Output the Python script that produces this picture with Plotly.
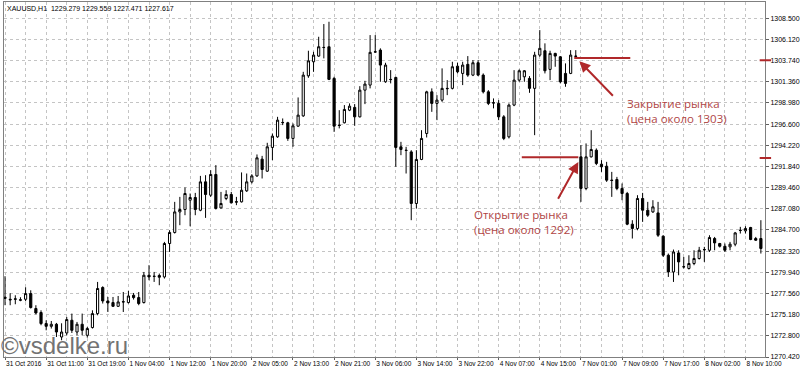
import plotly.graph_objects as go

# ---------------- data ----------------
opens = [
    1277.14, 1276.91, 1276.91, 1276.80, 1276.91, 1277.55, 1275.87, 1275.42, 1274.18, 1273.87,
    1274.10, 1272.67, 1273.12, 1274.55, 1273.23, 1274.10, 1272.86, 1273.73, 1275.30, 1278.23,
    1276.72, 1276.54, 1276.12, 1276.61, 1276.54, 1277.36, 1277.10, 1276.54, 1279.61, 1279.50,
    1279.58, 1279.42, 1283.18, 1284.42, 1286.73, 1287.00, 1288.05, 1288.35, 1286.92, 1290.11,
    1288.61, 1290.94, 1287.18, 1288.24, 1288.69, 1287.88, 1287.86, 1289.10, 1290.11, 1290.78,
    1292.66, 1291.31, 1293.98, 1295.17, 1296.79, 1296.75, 1294.99, 1296.37, 1297.53, 1302.03,
    1303.61, 1304.25, 1305.23, 1305.30, 1301.74, 1296.49, 1296.75, 1298.17, 1298.48, 1297.42,
    1300.42, 1300.99, 1304.70, 1304.92, 1301.36, 1301.63, 1301.85, 1294.05, 1293.67, 1293.48,
    1287.68, 1292.63, 1295.55, 1300.23, 1298.93, 1299.30, 1300.62, 1300.62, 1303.12, 1302.30,
    1303.32, 1302.11, 1303.50, 1302.11, 1300.23, 1299.00, 1298.93, 1297.42, 1295.17, 1298.74,
    1301.55, 1301.92, 1301.74, 1300.62, 1304.36, 1304.85, 1302.75, 1304.55, 1304.17, 1302.30,
    1302.30, 1304.25, 1292.92, 1289.37, 1292.92, 1293.67, 1292.10, 1291.87, 1290.30, 1290.38,
    1289.37, 1288.80, 1285.35, 1284.87, 1288.24, 1286.92, 1286.73, 1286.62, 1284.00, 1281.86,
    1279.98, 1282.12, 1280.55, 1280.37, 1280.93, 1281.49, 1282.50, 1282.42, 1283.74, 1283.18,
    1282.87, 1282.80, 1283.10, 1284.67, 1284.60, 1284.98, 1283.74, 1283.74]

highs = [
    1279.50, 1277.59, 1277.36, 1277.14, 1278.26, 1277.92, 1276.24, 1275.67, 1274.55, 1274.47,
    1274.25, 1274.21, 1274.92, 1275.30, 1274.36, 1275.30, 1273.80, 1275.67, 1278.86, 1278.37,
    1277.17, 1277.17, 1277.28, 1277.73, 1277.85, 1277.62, 1277.73, 1279.98, 1280.74, 1279.98,
    1279.80, 1283.36, 1284.67, 1287.86, 1288.42, 1289.48, 1288.80, 1288.87, 1290.78, 1290.86,
    1291.42, 1291.99, 1288.98, 1289.17, 1288.98, 1288.42, 1291.17, 1291.05, 1290.97, 1293.19,
    1293.03, 1294.50, 1295.55, 1297.42, 1297.24, 1296.86, 1296.68, 1299.60, 1302.48, 1304.85,
    1304.73, 1306.42, 1307.85, 1308.11, 1301.92, 1298.17, 1298.74, 1298.93, 1298.85, 1300.87,
    1301.47, 1306.61, 1306.61, 1305.12, 1303.50, 1302.67, 1301.92, 1294.61, 1294.05, 1293.67,
    1293.67, 1295.92, 1300.35, 1300.62, 1299.86, 1302.87, 1301.55, 1303.61, 1303.50, 1303.61,
    1304.25, 1303.80, 1303.80, 1302.30, 1300.42, 1299.49, 1299.30, 1297.61, 1298.93, 1302.67,
    1302.75, 1302.67, 1302.00, 1304.73, 1307.17, 1305.68, 1304.85, 1304.62, 1304.25, 1303.43,
    1304.92, 1304.92, 1294.24, 1294.43, 1295.92, 1293.87, 1292.55, 1292.36, 1291.23, 1290.67,
    1289.93, 1288.98, 1285.80, 1288.61, 1288.87, 1287.86, 1288.05, 1287.86, 1284.11, 1282.05,
    1282.50, 1282.42, 1281.67, 1281.86, 1282.42, 1282.80, 1282.80, 1284.11, 1283.92, 1283.25,
    1283.18, 1283.36, 1284.48, 1285.05, 1285.12, 1285.05, 1283.92, 1285.80]

lows = [
    1276.24, 1276.24, 1276.35, 1276.69, 1276.69, 1275.87, 1275.22, 1273.99, 1273.42, 1273.62,
    1272.67, 1272.30, 1272.86, 1273.12, 1272.86, 1272.86, 1272.60, 1273.62, 1275.11, 1276.43,
    1275.48, 1276.05, 1276.05, 1275.48, 1276.43, 1276.88, 1276.24, 1276.43, 1279.05, 1278.86,
    1278.49, 1279.24, 1282.23, 1284.30, 1285.24, 1286.36, 1285.12, 1286.36, 1286.81, 1286.06,
    1288.42, 1287.00, 1287.12, 1288.05, 1287.68, 1287.49, 1287.79, 1288.98, 1289.93, 1290.67,
    1290.49, 1291.23, 1292.55, 1295.06, 1296.49, 1294.72, 1294.05, 1296.30, 1297.42, 1301.81,
    1302.48, 1304.17, 1303.99, 1301.55, 1295.73, 1296.12, 1296.68, 1298.06, 1296.41, 1297.35,
    1298.85, 1300.62, 1304.64, 1301.36, 1301.25, 1301.18, 1291.80, 1293.11, 1291.05, 1285.80,
    1287.12, 1292.55, 1295.10, 1297.98, 1297.05, 1299.11, 1299.86, 1300.50, 1302.30, 1300.99,
    1301.92, 1302.00, 1302.00, 1300.05, 1298.74, 1298.37, 1297.05, 1294.80, 1294.99, 1298.62,
    1301.36, 1301.36, 1300.12, 1295.36, 1304.17, 1302.30, 1301.55, 1303.05, 1301.18, 1300.80,
    1302.22, 1304.10, 1287.86, 1289.17, 1292.85, 1291.99, 1291.23, 1290.11, 1288.42, 1289.17,
    1288.05, 1285.24, 1283.74, 1284.67, 1285.61, 1286.17, 1286.62, 1283.92, 1281.67, 1279.42,
    1278.86, 1279.61, 1280.37, 1280.25, 1280.74, 1281.38, 1281.11, 1282.23, 1282.42, 1282.73,
    1282.23, 1282.42, 1282.87, 1284.30, 1284.30, 1283.55, 1283.47, 1282.05]

closes = [
    1277.02, 1276.85, 1276.95, 1276.85, 1277.55, 1275.98, 1275.37, 1274.18, 1273.87, 1274.10,
    1273.23, 1273.23, 1274.63, 1273.42, 1274.10, 1273.42, 1273.62, 1275.30, 1278.12, 1276.72,
    1276.50, 1276.12, 1276.61, 1276.63, 1277.28, 1277.10, 1276.43, 1279.61, 1279.42, 1279.48,
    1279.39, 1283.18, 1284.42, 1286.73, 1287.00, 1288.80, 1288.35, 1287.00, 1290.11, 1288.69,
    1290.94, 1287.12, 1287.68, 1288.69, 1287.75, 1287.84, 1289.17, 1290.11, 1290.78, 1292.81,
    1291.50, 1294.05, 1295.25, 1297.05, 1296.77, 1294.99, 1296.41, 1297.61, 1302.11, 1303.72,
    1304.36, 1305.30, 1305.21, 1301.63, 1296.37, 1296.45, 1298.25, 1298.62, 1297.42, 1300.42,
    1301.10, 1304.67, 1304.73, 1303.24, 1303.24, 1301.61, 1293.98, 1293.75, 1293.64, 1287.68,
    1292.63, 1294.99, 1300.23, 1298.93, 1299.30, 1300.62, 1300.59, 1303.05, 1302.48, 1303.24,
    1302.11, 1303.50, 1302.11, 1300.23, 1298.93, 1298.98, 1297.42, 1294.99, 1298.74, 1301.55,
    1302.60, 1302.60, 1300.62, 1304.36, 1305.12, 1302.60, 1304.55, 1304.25, 1301.36, 1301.18,
    1304.36, 1304.22, 1289.37, 1292.92, 1293.75, 1292.18, 1291.80, 1290.30, 1290.27, 1289.37,
    1288.80, 1285.35, 1284.87, 1288.24, 1286.92, 1286.36, 1287.30, 1284.11, 1281.86, 1279.98,
    1282.23, 1281.11, 1280.57, 1280.93, 1281.49, 1282.42, 1282.48, 1283.85, 1283.25, 1282.87,
    1282.42, 1283.10, 1284.37, 1284.65, 1284.87, 1283.63, 1283.55, 1282.62]

tick_labels = ["31 Oct 2016", "31 Oct 11:00", "31 Oct 19:00", "1 Nov 04:00", "1 Nov 12:00",
               "1 Nov 20:00", "2 Nov 05:00", "2 Nov 13:00", "2 Nov 21:00", "3 Nov 06:00",
               "3 Nov 14:00", "3 Nov 22:00", "4 Nov 07:00", "4 Nov 15:00", "7 Nov 01:00",
               "7 Nov 09:00", "7 Nov 17:00", "8 Nov 02:00", "8 Nov 10:00"]
tick_step = 8
price_ticks = [1270.42, 1272.80, 1275.18, 1277.56, 1279.94, 1282.32, 1284.70, 1287.08,
               1289.46, 1291.84, 1294.22, 1296.60, 1298.98, 1301.36, 1303.74, 1306.12, 1308.50]

header_text = "XAUUSD,H1  1229.279 1229.559 1227.471 1227.617"
close_note = "Закрытие рынка<br>(цена около 1303)"
open_note = "Открытие рынка<br>(цена около 1292)"
close_bar, close_price = 111, 1304.03
open_bar, open_price = 112, 1292.89

n = len(opens)
assert n == len(highs) == len(lows) == len(closes)
bars = list(range(n))
tick_vals = [i * tick_step for i in range(len(tick_labels))]

RED = "#b0282a"
TXT_RED = "#b04545"
GRID = "#c4c4c4"
SMALL = dict(family="Liberation Sans", size=7, color="#000000")

fig = go.Figure()
fig.add_trace(go.Candlestick(
    x=bars, open=opens, high=highs, low=lows, close=closes,
    increasing=dict(line=dict(color="#000000", width=1), fillcolor="#ffffff"),
    decreasing=dict(line=dict(color="#000000", width=1), fillcolor="#000000"),
    whiskerwidth=0, showlegend=False, hoverinfo="skip",
))

# horizontal red marker lines
fig.add_shape(type="line", xref="x", yref="y", x0=close_bar - 0.3, x1=close_bar + 10.6,
              y0=close_price, y1=close_price, line=dict(color=RED, width=2))
fig.add_shape(type="line", xref="x", yref="y", x0=open_bar - 11.5, x1=open_bar - 0.5,
              y0=open_price, y1=open_price, line=dict(color=RED, width=2))
# red marks on the price scale
for pr in (close_price - 0.25, open_price - 0.1):
    fig.add_shape(type="line", xref="paper", yref="y", x0=0.993, x1=1.008,
                  y0=pr, y1=pr, line=dict(color=RED, width=2))

# arrows
fig.add_annotation(x=close_bar + 0.7, y=close_price - 0.35, ax=close_bar + 7.5, ay=close_price - 4.4,
                   xref="x", yref="y", axref="x", ayref="y", text="", showarrow=True,
                   arrowhead=2, arrowsize=1.1, arrowwidth=2, arrowcolor=RED)
fig.add_annotation(x=open_bar - 0.5, y=open_price - 0.55, ax=open_bar - 4.6, ay=open_price - 4.85,
                   xref="x", yref="y", axref="x", ayref="y", text="", showarrow=True,
                   arrowhead=2, arrowsize=1.1, arrowwidth=2, arrowcolor=RED)

# notes
note_font = dict(family="Open Sans", size=11.5, color=TXT_RED)
fig.add_annotation(x=close_bar + 9.6, y=close_price - 4.0, xref="x", yref="y", text=close_note,
                   showarrow=False, xanchor="left", yanchor="top", align="left", font=note_font)
fig.add_annotation(x=open_bar - 21.2, y=open_price - 5.4, xref="x", yref="y", text=open_note,
                   showarrow=False, xanchor="left", yanchor="top", align="left", font=note_font)

# header
fig.add_annotation(x=0.0, y=1.0, xref="paper", yref="paper", text=header_text, showarrow=False,
                   xanchor="left", yanchor="top", xshift=1, yshift=-1,
                   font=dict(family="Liberation Sans", size=7, color="#000000"))

# watermark
fig.add_annotation(x=0.0, y=0.0, xref="paper", yref="paper", text="©vsdelke.ru", showarrow=False,
                   xanchor="left", yanchor="bottom", xshift=-5, yshift=-4,
                   font=dict(family="Liberation Sans", size=24, color="#737373"))

fig.update_layout(
    width=800, height=369,
    margin=dict(l=4, r=35, t=2, b=12),
    paper_bgcolor="#ffffff", plot_bgcolor="#ffffff",
    boxgap=0.4,
    xaxis=dict(
        range=[-0.2, 147.8], rangeslider=dict(visible=False),
        tickmode="array", tickvals=tick_vals, ticktext=tick_labels, tickangle=0,
        ticks="outside", ticklen=2, tickcolor="#606060",
        ticklabelposition="outside right", tickfont=dict(family="Liberation Sans", size=6.5, color="#000"),
        showgrid=False, zeroline=False, automargin=False,
        showline=True, linecolor="#808080", linewidth=1, mirror=True,
        minor=dict(tickmode="linear", tick0=0, dtick=tick_step / 2, showgrid=True,
                   gridcolor=GRID, griddash="dot", gridwidth=1, ticks=""),
    ),
    yaxis=dict(
        range=[1270.42, 1310.33], side="right",
        tickmode="array", tickvals=price_ticks, tickformat=".3f",
        ticks="outside", ticklen=3, tickcolor="#606060",
        tickfont=SMALL, showgrid=True, gridcolor=GRID, griddash="dot", gridwidth=1,
        zeroline=False, automargin=False,
        showline=True, linecolor="#808080", linewidth=1, mirror=True,
    ),
)

fig.write_html("out.html")
